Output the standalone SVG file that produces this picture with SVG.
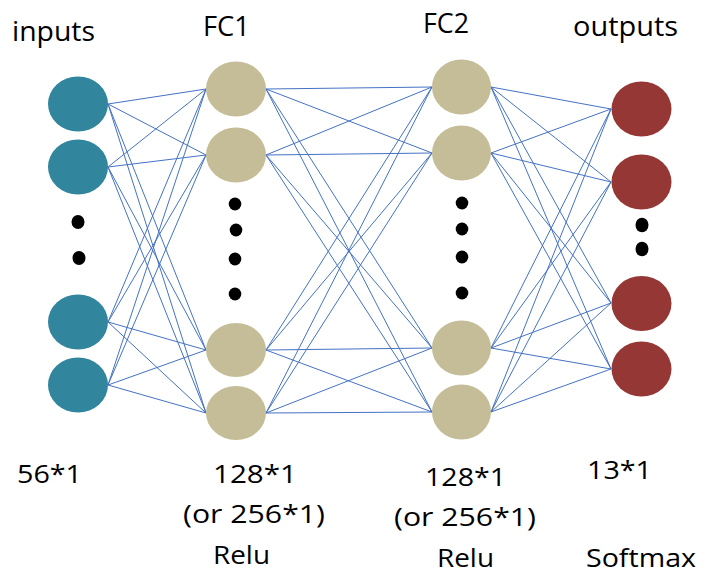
<svg xmlns="http://www.w3.org/2000/svg" width="709" height="581" viewBox="0 0 709 581">
<style>
.lbl{font-family:"Open Sans","Liberation Sans",sans-serif;font-size:27px;fill:#000}
.sm{font-size:26px}
.in{fill:#31859C}
.fc{fill:#C4BD97}
.out{fill:#953735}
.dot{fill:#000}
.edge{stroke:#4472C4;stroke-width:1;fill:none}
</style>
<rect width="709" height="581" fill="#fff"/>
<g id="connectors" class="edge">
<path d="M108,104 L206,89 M108,104 L206,155 M108,104 L206,350 M108,104 L206,413
M108,167 L206,89 M108,167 L206,155 M108,167 L206,350 M108,167 L206,413
M108,322 L206,89 M108,322 L206,155 M108,322 L206,350 M108,322 L206,413
M108,385 L206,89 M108,385 L206,155 M108,385 L206,350 M108,385 L206,413"/>
<path d="M266,89 L432,87 M266,89 L432,153 M266,89 L432,348 M266,89 L432,412
M266,155 L432,87 M266,155 L432,153 M266,155 L432,348 M266,155 L432,412
M266,350 L432,87 M266,350 L432,153 M266,350 L432,348 M266,350 L432,412
M266,413 L432,87 M266,413 L432,153 M266,413 L432,348 M266,413 L432,412"/>
<path d="M491,87 L611,109 M491,87 L611,182 M491,87 L611,303 M491,87 L611,369
M491,153 L611,109 M491,153 L611,182 M491,153 L611,303 M491,153 L611,369
M491,348 L611,109 M491,348 L611,182 M491,348 L611,303 M491,348 L611,369
M491,412 L611,109 M491,412 L611,182 M491,412 L611,303 M491,412 L611,369"/>
</g>
<g id="inputs">
<g id="in1"><ellipse class="in" cx="78" cy="104" rx="30" ry="27.5"/></g>
<g id="in2"><ellipse class="in" cx="78" cy="167" rx="30" ry="27.5"/></g>
<g id="in3"><ellipse class="in" cx="78" cy="322" rx="30" ry="27.5"/></g>
<g id="in4"><ellipse class="in" cx="78" cy="385" rx="30" ry="27.5"/></g>
<g id="in-dots"><ellipse class="dot" cx="78" cy="222" rx="6.5" ry="7"/><ellipse class="dot" cx="79" cy="258" rx="6.5" ry="7"/></g>
</g>
<g id="fc1">
<g id="fc1-1"><ellipse class="fc" cx="236" cy="89" rx="30" ry="27.5"/></g>
<g id="fc1-2"><ellipse class="fc" cx="236" cy="155" rx="30" ry="27.5"/></g>
<g id="fc1-3"><ellipse class="fc" cx="236" cy="350" rx="30" ry="27"/></g>
<g id="fc1-4"><ellipse class="fc" cx="236" cy="413" rx="30" ry="27"/></g>
<g id="fc1-dots"><ellipse class="dot" cx="235" cy="204" rx="6.3" ry="6.5"/><ellipse class="dot" cx="236" cy="230" rx="6.3" ry="6.5"/><ellipse class="dot" cx="235" cy="259" rx="6.3" ry="6.5"/><ellipse class="dot" cx="235" cy="294" rx="6.3" ry="6.5"/></g>
</g>
<g id="fc2">
<g id="fc2-1"><ellipse class="fc" cx="461.5" cy="87" rx="29.5" ry="27.5"/></g>
<g id="fc2-2"><ellipse class="fc" cx="461.5" cy="153" rx="29.5" ry="27.5"/></g>
<g id="fc2-3"><ellipse class="fc" cx="461.5" cy="348" rx="29.5" ry="27.5"/></g>
<g id="fc2-4"><ellipse class="fc" cx="461.5" cy="412" rx="29.5" ry="27.5"/></g>
<g id="fc2-dots"><ellipse class="dot" cx="462" cy="203" rx="6.3" ry="6.5"/><ellipse class="dot" cx="462" cy="229" rx="6.3" ry="6.5"/><ellipse class="dot" cx="462" cy="257" rx="6.3" ry="6.5"/><ellipse class="dot" cx="462" cy="293" rx="6.3" ry="6.5"/></g>
</g>
<g id="outputs">
<g id="out1"><ellipse class="out" cx="641.5" cy="109" rx="30" ry="27.5"/></g>
<g id="out2"><ellipse class="out" cx="641.5" cy="182" rx="30" ry="27.5"/></g>
<g id="out3"><ellipse class="out" cx="641.5" cy="303.5" rx="30" ry="27.5"/></g>
<g id="out4"><ellipse class="out" cx="641.5" cy="369" rx="30" ry="27.5"/></g>
<g id="out-dots"><ellipse class="dot" cx="642" cy="225" rx="6.5" ry="7.3"/><ellipse class="dot" cx="642" cy="249" rx="6.5" ry="7.3"/></g>
</g>
<g id="labels">
<text class="lbl" x="12" y="41" textLength="83" lengthAdjust="spacingAndGlyphs">inputs</text>
<text class="lbl" x="203" y="36" textLength="47" lengthAdjust="spacingAndGlyphs">FC1</text>
<text class="lbl" x="423" y="33" textLength="46" lengthAdjust="spacingAndGlyphs">FC2</text>
<text class="lbl" x="573" y="36" textLength="105" lengthAdjust="spacingAndGlyphs">outputs</text>
<text class="lbl sm" x="17" y="483" textLength="65" lengthAdjust="spacingAndGlyphs">56*1</text>
<text class="lbl sm" x="213" y="483" textLength="84" lengthAdjust="spacingAndGlyphs">128*1</text>
<text class="lbl sm" x="183" y="523" textLength="142" lengthAdjust="spacingAndGlyphs">(or 256*1)</text>
<text class="lbl sm" x="213" y="564" textLength="57" lengthAdjust="spacingAndGlyphs">Relu</text>
<text class="lbl sm" x="425" y="486" textLength="81" lengthAdjust="spacingAndGlyphs">128*1</text>
<text class="lbl sm" x="394" y="526" textLength="142" lengthAdjust="spacingAndGlyphs">(or 256*1)</text>
<text class="lbl sm" x="437" y="567" textLength="57" lengthAdjust="spacingAndGlyphs">Relu</text>
<text class="lbl sm" x="587" y="479" textLength="65" lengthAdjust="spacingAndGlyphs">13*1</text>
<text class="lbl sm" x="586" y="567" textLength="110" lengthAdjust="spacingAndGlyphs">Softmax</text>
</g>
</svg>
